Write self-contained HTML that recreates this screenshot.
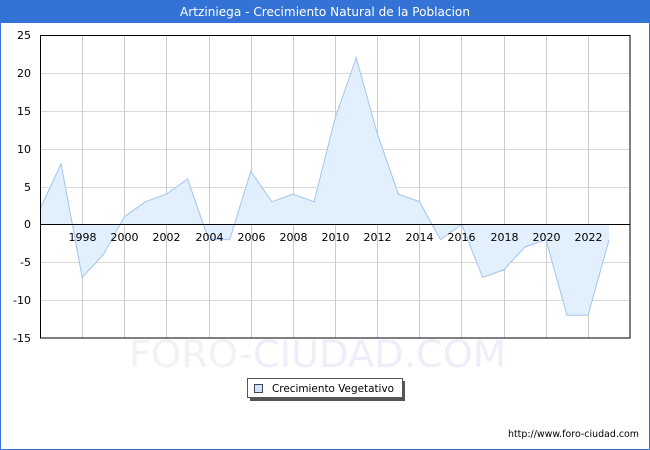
<!DOCTYPE html>
<html><head><meta charset="utf-8"><style>
html,body{margin:0;padding:0;background:#fff;}
svg{display:block;}
text{font-family:"DejaVu Sans","Liberation Sans",sans-serif;}
</style></head><body>
<svg width="650" height="450" viewBox="0 0 650 450" xmlns="http://www.w3.org/2000/svg">
<rect x="0" y="0" width="650" height="450" fill="#fff"/>
<rect x="0.5" y="0.5" width="649" height="449" fill="none" stroke="#3473d6" stroke-width="1"/>
<rect x="0" y="0" width="650" height="23" fill="#3473d6"/>
<text x="325" y="16" fill="#fff" font-size="12" text-anchor="middle" textLength="290" lengthAdjust="spacingAndGlyphs">Artziniega - Crecimiento Natural de la Poblacion</text>

<!-- watermark -->
<text x="129" y="367" font-size="37" textLength="377" lengthAdjust="spacingAndGlyphs"><tspan fill="#f2f2f4">FORO-</tspan><tspan fill="#eeeefa">CIUDAD.COM</tspan></text>

<!-- grid -->
<g stroke="#d9d9d9" stroke-width="1">
<line x1="40" y1="73.5" x2="630" y2="73.5"/>
<line x1="40" y1="111.5" x2="630" y2="111.5"/>
<line x1="40" y1="149.5" x2="630" y2="149.5"/>
<line x1="40" y1="187.5" x2="630" y2="187.5"/>
<line x1="40" y1="262.5" x2="630" y2="262.5"/>
<line x1="40" y1="300.5" x2="630" y2="300.5"/>
</g>
<g stroke="#cccccc" stroke-width="1">
<line x1="82.5" y1="35" x2="82.5" y2="338"/>
<line x1="124.5" y1="35" x2="124.5" y2="338"/>
<line x1="166.5" y1="35" x2="166.5" y2="338"/>
<line x1="209.5" y1="35" x2="209.5" y2="338"/>
<line x1="251.5" y1="35" x2="251.5" y2="338"/>
<line x1="293.5" y1="35" x2="293.5" y2="338"/>
<line x1="335.5" y1="35" x2="335.5" y2="338"/>
<line x1="377.5" y1="35" x2="377.5" y2="338"/>
<line x1="419.5" y1="35" x2="419.5" y2="338"/>
<line x1="461.5" y1="35" x2="461.5" y2="338"/>
<line x1="504.5" y1="35" x2="504.5" y2="338"/>
<line x1="546.5" y1="35" x2="546.5" y2="338"/>
<line x1="588.5" y1="35" x2="588.5" y2="338"/>
</g>

<!-- area -->
<polygon fill="#e2f0fe" points="40,224.4 40,209.25 61.08,163.8 82.16,277.4 103.24,254.7 124.32,216.8 145.4,201.7 166.48,194.1 187.56,179 208.64,239.6 229.72,239.6 250.8,171.4 271.88,201.7 292.96,194.1 314.04,201.7 335.12,118.35 356.2,57.75 377.28,133.5 398.36,194.1 419.44,201.7 440.52,239.6 461.6,224.4 482.68,277.4 503.76,269.9 524.84,247.1 545.92,239.6 567,315.3 588.08,315.3 609.16,239.6 609.16,224.4"/>
<polyline fill="none" stroke="#a3c3f0" stroke-width="1" points="40,209.25 61.08,163.8 82.16,277.4 103.24,254.7 124.32,216.8 145.4,201.7 166.48,194.1 187.56,179 208.64,239.6 229.72,239.6 250.8,171.4 271.88,201.7 292.96,194.1 314.04,201.7 335.12,118.35 356.2,57.75 377.28,133.5 398.36,194.1 419.44,201.7 440.52,239.6 461.6,224.4 482.68,277.4 503.76,269.9 524.84,247.1 545.92,239.6 567,315.3 588.08,315.3 609.16,239.6"/>

<!-- zero line and border -->
<line x1="40" y1="224.5" x2="630" y2="224.5" stroke="#000" stroke-width="1"/>
<rect x="40.5" y="35.5" width="589.5" height="302.5" fill="none" stroke="#000" stroke-width="1"/>

<!-- y labels -->
<g font-size="11" fill="#000" text-anchor="end">
<text x="31" y="39">25</text>
<text x="31" y="77">20</text>
<text x="31" y="115">15</text>
<text x="31" y="153">10</text>
<text x="31" y="191">5</text>
<text x="31" y="228">0</text>
<text x="31" y="266">-5</text>
<text x="31" y="304">-10</text>
<text x="31" y="342">-15</text>
</g>
<!-- x labels -->
<g font-size="11" fill="#000" text-anchor="middle">
<text x="82.5" y="241">1998</text>
<text x="124.5" y="241">2000</text>
<text x="166.5" y="241">2002</text>
<text x="209.5" y="241">2004</text>
<text x="251.5" y="241">2006</text>
<text x="293.5" y="241">2008</text>
<text x="335.5" y="241">2010</text>
<text x="377.5" y="241">2012</text>
<text x="419.5" y="241">2014</text>
<text x="461.5" y="241">2016</text>
<text x="504.5" y="241">2018</text>
<text x="546.5" y="241">2020</text>
<text x="588.5" y="241">2022</text>
</g>

<!-- legend -->
<rect x="250" y="381" width="155" height="20" fill="#555"/>
<rect x="247.5" y="378.5" width="155" height="19" fill="#fff" stroke="#555" stroke-width="1"/>
<rect x="254.5" y="384.5" width="8" height="8" fill="#cfe4fb" stroke="#445" stroke-width="1"/>
<text x="272" y="392" font-size="11" fill="#000" textLength="122" lengthAdjust="spacingAndGlyphs">Crecimiento Vegetativo</text>

<!-- footer -->
<text x="639" y="437" font-size="10" fill="#000" text-anchor="end" textLength="131" lengthAdjust="spacingAndGlyphs">http://www.foro-ciudad.com</text>
</svg>
</body></html>
